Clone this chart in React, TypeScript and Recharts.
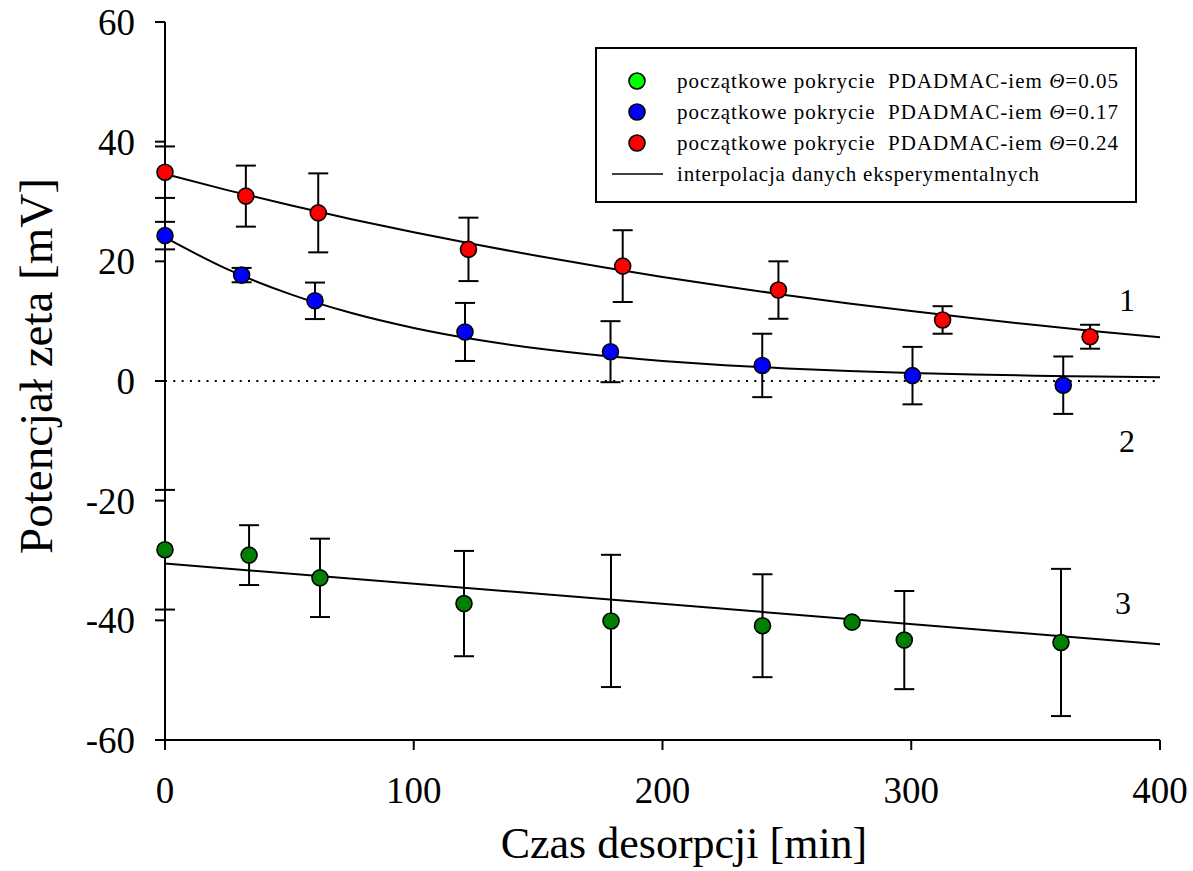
import React from 'react';
import {
  ComposedChart, XAxis, YAxis, Scatter, Line, ErrorBar, ReferenceLine, Legend,
} from 'recharts';

const FONT = '"Liberation Serif", "DejaVu Serif", serif';

// ---- data ----
const xTicks = [0, 100, 200, 300, 400];
const yTicks = [-60, -40, -20, 0, 20, 40, 60];

const timesRed = [0, 32.5, 61.6, 122, 184, 246.6, 312.6, 371.9];
const zetaRed = [34.9, 30.9, 28.1, 22.0, 19.2, 15.2, 10.2, 7.4];
const errRed = [4.3, 5.1, 6.6, 5.3, 6.0, 4.8, 2.3, 2.0];

const timesBlue = [0, 30.8, 60.3, 120.6, 179.1, 240.1, 300.5, 361.1];
const zetaBlue = [24.3, 17.7, 13.4, 8.2, 4.9, 2.6, 0.9, -0.7];
const errBlue = [2.3, 1.2, 3.05, 4.85, 5.1, 5.3, 4.8, 4.8];

const timesGreen = [0, 33.8, 62.3, 120.2, 179.3, 240.2, 297.2, 360.2];
const zetaGreen = [-28.2, -29.1, -32.9, -37.2, -40.1, -40.9, -43.3, -43.7];
const errGreen = [10, 5, 6.55, 8.8, 11.05, 8.6, 8.2, 12.3];
const timesGreenNoErr = [276.2];
const zetaGreenNoErr = [-40.3];

const fitTimes = [0, 25, 50, 75, 100, 125, 150, 175, 200, 225, 250, 275, 300, 325, 350, 375, 400];
const fitRed = [34.6, 31.9, 29.4, 27.05, 24.86, 22.8, 20.88, 19.08, 17.39, 15.82, 14.35, 12.97, 11.68, 10.47, 9.35, 8.29, 7.3];
const fitBlue = [24.0, 18.69, 14.56, 11.36, 8.87, 6.93, 5.43, 4.26, 3.36, 2.65, 2.1, 1.68, 1.35, 1.09, 0.89, 0.74, 0.62];
const fitGreenTimes = [0, 400];
const fitGreen = [-30.5, -44.0];

const curveLabels = ['1', '2', '3'];
const curveLabelTimes = [386.7, 386.7, 385.1];
const curveLabelZeta = [13.5, -10.0, -37.1];

const legendLabels = ['0.05', '0.17', '0.24'];
const legendColors = ['#00ff00', '#0000ff', '#ff0000'];

// ---- build tables ----
const pts = (xs: number[], ys: number[], es?: number[]) =>
  xs.map((x, i) => ({ x, y: ys[i], err: es ? es[i] : 0 }));

const redData = pts(timesRed, zetaRed, errRed);
const blueData = pts(timesBlue, zetaBlue, errBlue);
const greenData = pts(timesGreen, zetaGreen, errGreen);
const greenNoErrData = pts(timesGreenNoErr, zetaGreenNoErr);
const redFit = pts(fitTimes, fitRed);
const blueFit = pts(fitTimes, fitBlue);
const greenFit = pts(fitGreenTimes, fitGreen);
const labelData = curveLabels.map((label, i) => ({ x: curveLabelTimes[i], y: curveLabelZeta[i], label }));

const dot = (fill: string) => (props: any) => (
  <circle cx={props.cx} cy={props.cy} r={8} fill={fill} stroke="#000" strokeWidth={1.6} />
);

const LabelShape = (props: any) => (
  <text x={props.cx} y={props.cy} textAnchor="middle" dominantBaseline="central"
    fontFamily={FONT} fontSize={32} fill="#000">{props.payload.label}</text>
);

const YTitle = () => (
  <text x={52} y={366} transform="rotate(-90 52 366)" textAnchor="middle"
    fontFamily={FONT} fontSize={47} fill="#000">Potencjał zeta [mV]</text>
);

const XTitle = () => (
  <text x={684} y={858} textAnchor="middle" fontFamily={FONT} fontSize={44} fill="#000">
    Czas desorpcji [min]
  </text>
);

const LegendBox = () => {
  const rows = [33, 64, 95];
  return (
    <div style={{ width: 542, height: 156, border: '2px solid #000', boxSizing: 'border-box', background: '#fff' }}>
      <svg width={538} height={152} style={{ display: 'block' }}>
        {legendLabels.map((v, i) => (
          <g key={v}>
            <circle cx={40} cy={rows[i] - 1} r={8} fill={legendColors[i]} stroke="#000" strokeWidth={1.6} />
            <text x={80} y={rows[i] - 1} dominantBaseline="central" fontFamily={FONT} fontSize={21}
              fill="#000" textLength={441} lengthAdjust="spacing" style={{ whiteSpace: 'pre' }}>
              {'początkowe pokrycie  PDADMAC-iem '}
              <tspan fontStyle="italic">Θ</tspan>
              {'=' + v}
            </text>
          </g>
        ))}
        <line x1={15} x2={66} y1={125} y2={125} stroke="#000" strokeWidth={1.6} />
        <text x={80} y={125} dominantBaseline="central" fontFamily={FONT} fontSize={21} fill="#000"
          textLength={362} lengthAdjust="spacing">
          interpolacja danych eksperymentalnych
        </text>
      </svg>
    </div>
  );
};

const axisStroke = { stroke: '#000', strokeWidth: 2 };

export default function App() {
  return (
    <div style={{ position: 'absolute', left: 0, top: 0, width: 1193, height: 871, background: '#fff' }}>
      <ComposedChart width={1193} height={871}
        margin={{ top: 22, right: 33, bottom: 71, left: 65 }}>
        <XAxis xAxisId="b" type="number" dataKey="x" domain={[0, 400]} ticks={xTicks}
          height={60} tickSize={10} tickMargin={27}
          axisLine={axisStroke} tickLine={axisStroke}
          tick={{ fill: '#000', fontSize: 37, fontFamily: FONT }} label={<XTitle />} />
        <XAxis xAxisId="t" orientation="top" type="number" dataKey="x" domain={[0, 400]} ticks={xTicks}
          height={0} tickSize={9} axisLine={axisStroke} tickLine={axisStroke} tick={false} />
        <YAxis yAxisId="l" type="number" dataKey="y" domain={[-60, 60]} ticks={yTicks}
          width={100} tickSize={10} tickMargin={20}
          axisLine={axisStroke} tickLine={axisStroke}
          tick={{ fill: '#000', fontSize: 37, fontFamily: FONT }} label={<YTitle />} />
        <YAxis yAxisId="r" orientation="right" type="number" dataKey="y" domain={[-60, 60]} ticks={yTicks}
          width={0} tickSize={10} axisLine={axisStroke} tickLine={axisStroke} tick={false} />

        <ReferenceLine xAxisId="b" yAxisId="l" y={0} stroke="#000" strokeWidth={2} strokeDasharray="2 6.3" />

        <Scatter xAxisId="b" yAxisId="l" data={redData} shape={dot('#ff0000')} isAnimationActive={false}>
          <ErrorBar dataKey="err" direction="y" width={10} stroke="#000" strokeWidth={2} isAnimationActive={false} />
        </Scatter>
        <Scatter xAxisId="b" yAxisId="l" data={blueData} shape={dot('#0000ff')} isAnimationActive={false}>
          <ErrorBar dataKey="err" direction="y" width={10} stroke="#000" strokeWidth={2} isAnimationActive={false} />
        </Scatter>
        <Scatter xAxisId="b" yAxisId="l" data={greenData} shape={dot('#008000')} isAnimationActive={false}>
          <ErrorBar dataKey="err" direction="y" width={10} stroke="#000" strokeWidth={2} isAnimationActive={false} />
        </Scatter>
        <Scatter xAxisId="b" yAxisId="l" data={greenNoErrData} shape={dot('#008000')} isAnimationActive={false} />

        <Line xAxisId="b" yAxisId="l" data={redFit} dataKey="y" type="monotone" stroke="#000" strokeWidth={2}
          dot={false} activeDot={false} isAnimationActive={false} />
        <Line xAxisId="b" yAxisId="l" data={blueFit} dataKey="y" type="monotone" stroke="#000" strokeWidth={2}
          dot={false} activeDot={false} isAnimationActive={false} />
        <Line xAxisId="b" yAxisId="l" data={greenFit} dataKey="y" type="linear" stroke="#000" strokeWidth={2}
          dot={false} activeDot={false} isAnimationActive={false} />

        <Scatter xAxisId="b" yAxisId="l" data={labelData} shape={LabelShape} isAnimationActive={false} />

        <Legend layout="horizontal" align="center" verticalAlign="middle" content={<LegendBox />}
          wrapperStyle={{ position: 'absolute', left: 595, top: 47, width: 542, height: 156 }} />
      </ComposedChart>
    </div>
  );
}
